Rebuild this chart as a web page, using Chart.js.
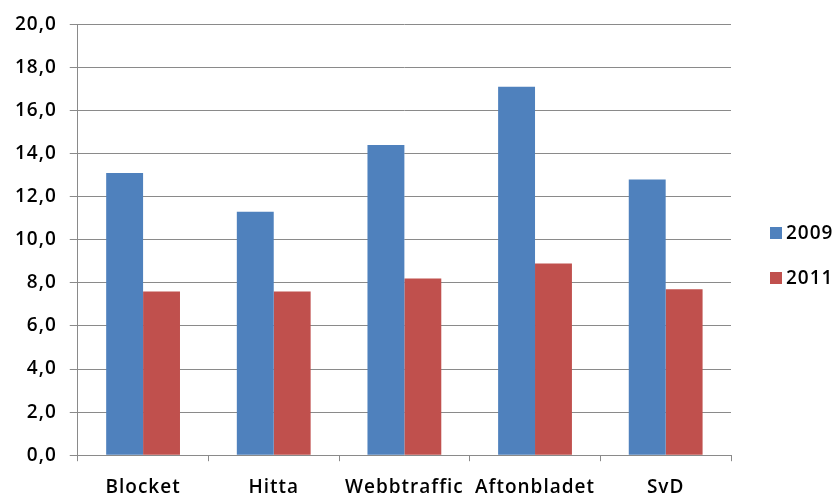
<!DOCTYPE html>
<html>
<head>
<meta charset="utf-8">
<script src="https://cdn.jsdelivr.net/npm/chart.js@4.4.1/dist/chart.umd.min.js"></script>
<style>
  html, body {margin: 0; padding: 0; background: #fff;}
  #wrap {width: 840px; height: 497px;}
</style>
</head>
<body>
<div id="wrap"><canvas id="chart"></canvas></div>
<script>
const categories = ['Blocket', 'Hitta', 'Webbtraffic', 'Aftonbladet', 'SvD'],
      seriesNames = ['2009', '2011'],
      values2009 = [13.1, 11.3, 14.4, 17.1, 12.8],
      values2011 = [7.6, 7.6, 8.2, 8.9, 7.7],
      colors = ['#4F81BD', '#C0504D'];

const ctx = document.getElementById('chart').getContext('2d');
const FONT = '"Open Sans", Lato, sans-serif';

// the Excel text is spaced wider, so open up the letters a bit
const spacing = {
    id: 'spacing',
    beforeUpdate(chart) { chart.ctx.letterSpacing = '1px'; },
    beforeDraw(chart) { chart.ctx.letterSpacing = '1px'; }
};

// legend drawn by hand so it sits like the Excel one
const sideLegend = {
    id: 'sideLegend',
    afterDraw(chart) {
        const c = chart.ctx;
        c.save();
        c.font = '600 19px ' + FONT;
        c.textBaseline = 'middle';
        chart.data.datasets.forEach((ds, i) => {
            const y = 233 + i * 45;
            c.fillStyle = ds.backgroundColor;
            c.fillRect(770, y - 6, 12, 12);
            c.fillStyle = '#000';
            c.fillText(ds.label, 786, y + 1);
        });
        c.restore();
    }
};

new Chart(ctx, {
    type: 'bar',
    data: {
        labels: categories,
        datasets: [
            {label: seriesNames[0], data: values2009, backgroundColor: colors[0]},
            {label: seriesNames[1], data: values2011, backgroundColor: colors[1]}
        ]
    },
    options: {
        responsive: true,
        maintainAspectRatio: false,
        animation: false,
        layout: {padding: {top: 24, right: 109, left: 2, bottom: -17}},
        datasets: {bar: {barPercentage: 1, categoryPercentage: 0.565}},
        plugins: {
            legend: {display: false},
            tooltip: {enabled: false}
        },
        scales: {
            y: {
                min: 0,
                max: 20,
                ticks: {
                    stepSize: 2,
                    color: '#000',
                    padding: 13,
                    font: {family: FONT, size: 19, weight: '600'},
                    callback: function(value) {
                        return value.toFixed(1).replace('.', ',');
                    }
                },
                grid: {color: '#8a8a8a', lineWidth: 1, tickLength: 8},
                border: {color: '#8a8a8a'}
            },
            x: {
                ticks: {
                    color: '#000',
                    padding: 15,
                    font: {family: FONT, size: 19, weight: '600'}
                },
                grid: {
                    offset: true,
                    drawOnChartArea: false,
                    color: '#8a8a8a',
                    tickLength: 6
                },
                border: {color: '#8a8a8a'}
            }
        }
    },
    plugins: [spacing, sideLegend]
});
</script>
</body>
</html>
